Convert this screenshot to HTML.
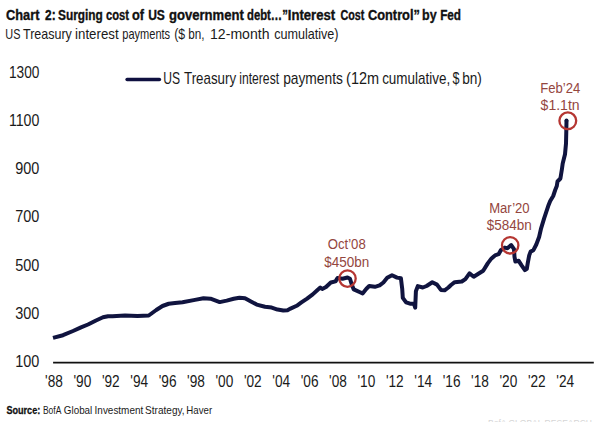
<!DOCTYPE html>
<html><head><meta charset="utf-8"><style>
html,body{margin:0;padding:0;background:#fff;}
svg{display:block;}
text{font-family:"Liberation Sans",sans-serif;}
</style></head><body>
<svg width="600" height="422" viewBox="0 0 600 422">
<rect width="600" height="422" fill="#fff"/>
<text x="6.00" y="20" font-size="14.3" font-weight="bold" fill="#111" stroke="#111" stroke-width="0.35" textLength="33.41" lengthAdjust="spacingAndGlyphs">Chart</text>
<text x="45.00" y="20" font-size="14.3" font-weight="bold" fill="#111" stroke="#111" stroke-width="0.35" textLength="10.60" lengthAdjust="spacingAndGlyphs">2:</text>
<text x="58.00" y="20" font-size="14.3" font-weight="bold" fill="#111" stroke="#111" stroke-width="0.35" textLength="44.84" lengthAdjust="spacingAndGlyphs">Surging</text>
<text x="106.00" y="20" font-size="14.3" font-weight="bold" fill="#111" stroke="#111" stroke-width="0.35" textLength="23.03" lengthAdjust="spacingAndGlyphs">cost</text>
<text x="132.00" y="20" font-size="14.3" font-weight="bold" fill="#111" stroke="#111" stroke-width="0.35" textLength="12.05" lengthAdjust="spacingAndGlyphs">of</text>
<text x="148.16" y="20" font-size="14.3" font-weight="bold" fill="#111" stroke="#111" stroke-width="0.35" textLength="16.74" lengthAdjust="spacingAndGlyphs">US</text>
<text x="169.00" y="20" font-size="14.3" font-weight="bold" fill="#111" stroke="#111" stroke-width="0.35" textLength="74.84" lengthAdjust="spacingAndGlyphs">government</text>
<text x="247.00" y="20" font-size="14.3" font-weight="bold" fill="#111" stroke="#111" stroke-width="0.35" textLength="40.79" lengthAdjust="spacingAndGlyphs">debt…”</text>
<text x="287.78" y="20" font-size="14.3" font-weight="bold" fill="#111" stroke="#111" stroke-width="0.35" textLength="47.40" lengthAdjust="spacingAndGlyphs">Interest</text>
<text x="340.50" y="20" font-size="14.3" font-weight="bold" fill="#111" stroke="#111" stroke-width="0.35" textLength="23.84" lengthAdjust="spacingAndGlyphs">Cost</text>
<text x="368.00" y="20" font-size="14.3" font-weight="bold" fill="#111" stroke="#111" stroke-width="0.35" textLength="51.88" lengthAdjust="spacingAndGlyphs">Control”</text>
<text x="422.12" y="20" font-size="14.3" font-weight="bold" fill="#111" stroke="#111" stroke-width="0.35" textLength="14.60" lengthAdjust="spacingAndGlyphs">by</text>
<text x="440.18" y="20" font-size="14.3" font-weight="bold" fill="#111" stroke="#111" stroke-width="0.35" textLength="20.87" lengthAdjust="spacingAndGlyphs">Fed</text>
<text x="5.26" y="38.6" font-size="14.8" fill="#1a1a1a" textLength="15.15" lengthAdjust="spacingAndGlyphs">US</text>
<text x="23.00" y="38.6" font-size="14.8" fill="#1a1a1a" textLength="48.87" lengthAdjust="spacingAndGlyphs">Treasury</text>
<text x="75.10" y="38.6" font-size="14.8" fill="#1a1a1a" textLength="43.48" lengthAdjust="spacingAndGlyphs">interest</text>
<text x="122.25" y="38.6" font-size="14.8" fill="#1a1a1a" textLength="47.86" lengthAdjust="spacingAndGlyphs">payments</text>
<text x="174.17" y="38.6" font-size="14.8" fill="#1a1a1a" textLength="10.98" lengthAdjust="spacingAndGlyphs">($</text>
<text x="188.21" y="38.6" font-size="14.8" fill="#1a1a1a" textLength="16.25" lengthAdjust="spacingAndGlyphs">bn,</text>
<text x="210.05" y="38.6" font-size="14.8" fill="#1a1a1a" textLength="59.44" lengthAdjust="spacingAndGlyphs">12-month</text>
<text x="274.15" y="38.6" font-size="14.8" fill="#1a1a1a" textLength="64.41" lengthAdjust="spacingAndGlyphs">cumulative)</text>
<text x="163.24" y="83.9" font-size="15.9" fill="#1a1a1a" textLength="16.82" lengthAdjust="spacingAndGlyphs">US</text>
<text x="184.00" y="83.9" font-size="15.9" fill="#1a1a1a" textLength="52.09" lengthAdjust="spacingAndGlyphs">Treasury</text>
<text x="239.24" y="83.9" font-size="15.9" fill="#1a1a1a" textLength="39.86" lengthAdjust="spacingAndGlyphs">interest</text>
<text x="283.13" y="83.9" font-size="15.9" fill="#1a1a1a" textLength="59.79" lengthAdjust="spacingAndGlyphs">payments</text>
<text x="346.09" y="83.9" font-size="15.9" fill="#1a1a1a" textLength="33.02" lengthAdjust="spacingAndGlyphs">(12m</text>
<text x="382.15" y="83.9" font-size="15.9" fill="#1a1a1a" textLength="68.01" lengthAdjust="spacingAndGlyphs">cumulative,</text>
<text x="452.50" y="83.9" font-size="15.9" fill="#1a1a1a" textLength="6.98" lengthAdjust="spacingAndGlyphs">$</text>
<text x="462.14" y="83.9" font-size="15.9" fill="#1a1a1a" textLength="19.69" lengthAdjust="spacingAndGlyphs">bn)</text>
<text x="6.40" y="414.1" font-size="11.3" font-weight="bold" fill="#111" stroke="#111" stroke-width="0.3" textLength="33.86" lengthAdjust="spacingAndGlyphs">Source:</text>
<text x="42.95" y="414.1" font-size="11.3" fill="#1a1a1a" textLength="18.38" lengthAdjust="spacingAndGlyphs">BofA</text>
<text x="63.83" y="414.1" font-size="11.3" fill="#1a1a1a" textLength="28.44" lengthAdjust="spacingAndGlyphs">Global</text>
<text x="94.62" y="414.1" font-size="11.3" fill="#1a1a1a" textLength="48.61" lengthAdjust="spacingAndGlyphs">Investment</text>
<text x="145.11" y="414.1" font-size="11.3" fill="#1a1a1a" textLength="39.42" lengthAdjust="spacingAndGlyphs">Strategy,</text>
<text x="186.34" y="414.1" font-size="11.3" fill="#1a1a1a" textLength="25.78" lengthAdjust="spacingAndGlyphs">Haver</text>

<line x1="127.1" y1="79.5" x2="159.4" y2="79.5" stroke="#0f1040" stroke-width="3.5" stroke-linecap="round"/>
<g font-size="15.9" fill="#1a1a1a">
<text x="39.4" y="77.62" text-anchor="end" textLength="30.5" lengthAdjust="spacingAndGlyphs">1300</text>
<text x="39.4" y="125.90" text-anchor="end" textLength="30.5" lengthAdjust="spacingAndGlyphs">1100</text>
<text x="39.4" y="174.18" text-anchor="end" textLength="24.1" lengthAdjust="spacingAndGlyphs">900</text>
<text x="39.4" y="222.46" text-anchor="end" textLength="24.1" lengthAdjust="spacingAndGlyphs">700</text>
<text x="39.4" y="270.74" text-anchor="end" textLength="24.1" lengthAdjust="spacingAndGlyphs">500</text>
<text x="39.4" y="319.02" text-anchor="end" textLength="24.1" lengthAdjust="spacingAndGlyphs">300</text>
<text x="39.4" y="367.30" text-anchor="end" textLength="24.1" lengthAdjust="spacingAndGlyphs">100</text>

</g>
<g font-size="16" fill="#1a1a1a">
<text x="54.00" y="386.6" text-anchor="middle" textLength="17.8" lengthAdjust="spacingAndGlyphs">&#39;88</text>
<text x="82.40" y="386.6" text-anchor="middle" textLength="17.8" lengthAdjust="spacingAndGlyphs">&#39;90</text>
<text x="110.80" y="386.6" text-anchor="middle" textLength="17.8" lengthAdjust="spacingAndGlyphs">&#39;92</text>
<text x="139.20" y="386.6" text-anchor="middle" textLength="17.8" lengthAdjust="spacingAndGlyphs">&#39;94</text>
<text x="167.60" y="386.6" text-anchor="middle" textLength="17.8" lengthAdjust="spacingAndGlyphs">&#39;96</text>
<text x="196.00" y="386.6" text-anchor="middle" textLength="17.8" lengthAdjust="spacingAndGlyphs">&#39;98</text>
<text x="224.40" y="386.6" text-anchor="middle" textLength="17.8" lengthAdjust="spacingAndGlyphs">&#39;00</text>
<text x="252.80" y="386.6" text-anchor="middle" textLength="17.8" lengthAdjust="spacingAndGlyphs">&#39;02</text>
<text x="281.20" y="386.6" text-anchor="middle" textLength="17.8" lengthAdjust="spacingAndGlyphs">&#39;04</text>
<text x="309.60" y="386.6" text-anchor="middle" textLength="17.8" lengthAdjust="spacingAndGlyphs">&#39;06</text>
<text x="338.00" y="386.6" text-anchor="middle" textLength="17.8" lengthAdjust="spacingAndGlyphs">&#39;08</text>
<text x="366.40" y="386.6" text-anchor="middle" textLength="17.8" lengthAdjust="spacingAndGlyphs">&#39;10</text>
<text x="394.80" y="386.6" text-anchor="middle" textLength="17.8" lengthAdjust="spacingAndGlyphs">&#39;12</text>
<text x="423.20" y="386.6" text-anchor="middle" textLength="17.8" lengthAdjust="spacingAndGlyphs">&#39;14</text>
<text x="451.60" y="386.6" text-anchor="middle" textLength="17.8" lengthAdjust="spacingAndGlyphs">&#39;16</text>
<text x="480.00" y="386.6" text-anchor="middle" textLength="17.8" lengthAdjust="spacingAndGlyphs">&#39;18</text>
<text x="508.40" y="386.6" text-anchor="middle" textLength="17.8" lengthAdjust="spacingAndGlyphs">&#39;20</text>
<text x="536.80" y="386.6" text-anchor="middle" textLength="17.8" lengthAdjust="spacingAndGlyphs">&#39;22</text>
<text x="565.20" y="386.6" text-anchor="middle" textLength="17.8" lengthAdjust="spacingAndGlyphs">&#39;24</text>

</g>
<line x1="53.1" y1="362.6" x2="593.8" y2="362.6" stroke="#111" stroke-width="1.8"/>
<path d="M53,337.9 L63,335.2 L73,331 L81,327.4 L88,324.5 L96,320.5 L103,317.3 L108,316.2 L112.5,316.25 L125,315.6 L137.5,316 L148.75,315.5 L156.25,310 L162.5,306 L168.75,303.75 L175,303.1 L182.5,302.25 L195,299.9 L203.5,298.2 L210.5,298.7 L219.7,302.1 L226.7,300.6 L233.7,298.8 L239.5,297.7 L245,298.2 L250,300.9 L256.7,304.6 L265,306.8 L271.7,307.6 L277.5,309.6 L283.3,310.5 L287.5,310.2 L290.5,308.6 L296.7,305.8 L301.4,302.4 L307.1,298.6 L312.7,294.4 L317.5,290 L320.3,287.6 L322.2,289 L326,287 L330.8,282.5 L335.5,281.4 L337.5,278.1 L342.5,278.75 L347.5,277.5 L350,278.75 L351.9,285 L353.75,289.4 L360,292.25 L362.6,293.4 L366.4,288.7 L369.2,286 L374.9,286.8 L379.6,285.4 L383.4,282.5 L387.2,277.8 L392,275.2 L397,277.6 L400.9,278.25 L402.2,288.7 L402.8,297.8 L406.1,302.4 L410,303.7 L413.9,303.7 L415.2,307.6 L415.9,291.3 L417.8,286.1 L422.8,287.5 L426.6,286 L432.3,282.3 L437,284.6 L440.9,289.9 L444.6,290.3 L448.4,287.5 L451,285 L454.7,282.2 L461.8,281.5 L465.4,279.1 L469.5,273.4 L473.7,276.7 L478.4,273.8 L483.2,270.8 L487.9,263.1 L491.5,258.4 L495,255.4 L498.6,254.2 L500.8,250.2 L504.8,247.6 L507.4,248.25 L511.2,245 L514,249.2 L514.5,256.8 L515.4,261.5 L518.7,260.8 L521.6,265.3 L524.9,270.1 L526.8,268.8 L527.7,263.4 L529.2,255.4 L530.6,251.6 L533.4,250.2 L536.3,244.5 L539.1,237 L541.1,228.3 L544.2,218.2 L546.2,212.2 L548.2,206.1 L550.2,201.1 L553.2,196 L555.2,190 L556.8,186 L557.5,181.5 L560.4,178.5 L561.9,169.2 L562.7,163.5 L565,154.2 L566,143.5 L566.3,131.2 L566.5,120.5" fill="none" stroke="#10143f" stroke-width="4" stroke-linejoin="round" stroke-linecap="butt"/>
<circle cx="566.5" cy="120.5" r="2" fill="#10143f"/>
<g fill="none" stroke="#b53632" stroke-width="2.3">
<circle cx="347.5" cy="278.6" r="8.2"/>
<circle cx="510.2" cy="245.3" r="8.2"/>
<circle cx="567.8" cy="120.8" r="8.4"/>
</g>
<g font-size="13.8" fill="#94463e" text-anchor="middle">
<text x="346.7" y="248.8" textLength="38" lengthAdjust="spacingAndGlyphs">Oct’08</text>
<text x="346.7" y="266.5" textLength="45" lengthAdjust="spacingAndGlyphs">$450bn</text>
<text x="509.4" y="212.9" textLength="40.5" lengthAdjust="spacingAndGlyphs">Mar’20</text>
<text x="509.3" y="230.4" textLength="45" lengthAdjust="spacingAndGlyphs">$584bn</text>
<text x="560.3" y="92.8" textLength="40" lengthAdjust="spacingAndGlyphs">Feb’24</text>
<text x="560.1" y="110.1" textLength="39" lengthAdjust="spacingAndGlyphs">$1.1tn</text>
</g>
<text x="488" y="426.3" font-size="9.5" fill="#d6d6d6" textLength="104" lengthAdjust="spacingAndGlyphs">BofA GLOBAL RESEARCH</text>
</svg>
</body></html>
